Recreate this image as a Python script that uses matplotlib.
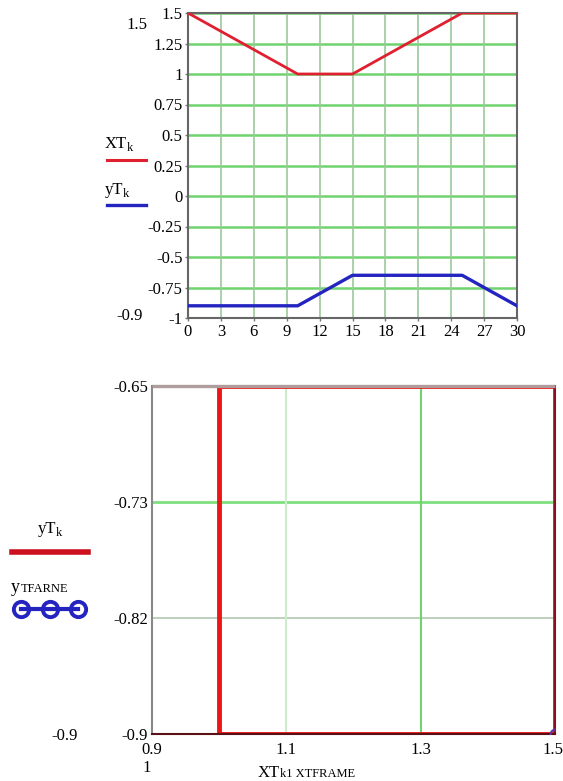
import matplotlib
matplotlib.use("Agg")
import matplotlib.pyplot as plt
from matplotlib.lines import Line2D
import matplotlib.transforms as mtrans
import numpy as np

plt.rcParams['font.family'] = ['Liberation Serif', 'DejaVu Serif']

# ---- data ----
k = [0, 10, 15, 25, 30]
XT = [1.5, 1.0, 1.0, 1.5, 1.5]
yT = [-0.9, -0.9, -0.65, -0.65, -0.9]
XTFRAME = [1.5]
yTFRAME = [-0.9]

top_xticks = [0, 3, 6, 9, 12, 15, 18, 21, 24, 27, 30]
top_yticks = [-1, -0.75, -0.5, -0.25, 0, 0.25, 0.5, 0.75, 1, 1.25, 1.5]
top_ylabels = ["-1", "-0.75", "-0.5", "-0.25", "0", "0.25", "0.5", "0.75", "1", "1.25", "1.5"]
bot_xticks = [0.9, 1.1, 1.3, 1.5]
bot_xlabels = ["0.9", "1.1", "1.3", "1.5"]
bot_yticks = [-0.9, -0.8167, -0.7333, -0.65]
bot_ylabels = ["-0.9", "-0.82", "-0.73", "-0.65"]

W, H = 563, 781
fig = plt.figure(figsize=(W / 100, H / 100), dpi=100)
fs = 12
sfs = 9

def fx(px):
    return px / W

def fy(py):
    return 1 - py / H

def sub_text(x, y, main, sub, size=fs, subsize=sfs, drop=3, ha_center=False, gap=-0.5):
    """Main text followed by a smaller, lowered subscript (pixel coords, baseline)."""
    t = fig.text(fx(x), fy(y), main, fontsize=size, ha='left', va='baseline')
    fig.canvas.draw()
    w_main = t.get_window_extent().width
    s = fig.text(fx(x + w_main + gap), fy(y + drop), sub, fontsize=subsize,
                 ha='left', va='baseline')
    if ha_center:
        w_sub = s.get_window_extent().width
        shift = (w_main + gap + w_sub) / 2
        t.set_x(fx(x - shift))
        s.set_x(fx(x - shift + w_main + gap))
    return t, s

# ---- top chart ----
ax1 = fig.add_axes([fx(188), fy(318), (517 - 188) / W, (318 - 13) / H])
ax1.set_xlim(0, 30)
ax1.set_ylim(-1, 1.5)
for t in top_yticks:
    ax1.axhline(t, color='#6fd36f', lw=1.8, zorder=1)
for t in top_xticks:
    ax1.axvline(t, color='#9bc99b', lw=1.2, zorder=1)
ax1.plot(k, XT, color='#e02030', lw=2.0, zorder=3)
ax1.plot(k, yT, color='#2424c0', lw=2.4, zorder=3)
ax1.set_xticks(top_xticks)
ax1.set_xticklabels([str(t) for t in top_xticks], fontsize=fs)
ax1.set_yticks(top_yticks)
ax1.set_yticklabels(top_ylabels, fontsize=fs)
ax1.tick_params(direction='out', length=2, width=1, color='#777777', pad=2)
for s in ax1.spines.values():
    s.set_color('#666666')
    s.set_linewidth(1.5)

# top legend & limit labels
fig.text(fx(137), fy(25), "1.5", fontsize=fs, ha='center', va='center')
fig.text(fx(130), fy(316), "-0.9", fontsize=fs, ha='center', va='center')
sub_text(105, 148, "XT", "k")
fig.add_artist(Line2D([fx(107), fx(146)], [fy(160), fy(160)], color='#e02030', lw=2.2))
sub_text(105, 194, "yT", "k")
fig.add_artist(Line2D([fx(107), fx(146)], [fy(205), fy(205)], color='#2424c0', lw=2.4))

# ---- bottom chart ----
ax2 = fig.add_axes([fx(152), fy(734), (555 - 152) / W, (734 - 386) / H])
ax2.set_xlim(0.9, 1.5)
ax2.set_ylim(-0.9, -0.65)
ax2.axhline(bot_yticks[2], color='#7ee07e', lw=2.0, zorder=1)
ax2.axhline(bot_yticks[1], color='#b0c8b0', lw=1.2, zorder=1)
ax2.axvline(1.1, color='#cdeccd', lw=1.5, zorder=1)
ax2.axvline(1.3, color='#6fd36f', lw=1.5, zorder=1)
ax2.plot(XT, yT, color='#ee1515', lw=3.5, zorder=2)
ax2.plot(XTFRAME, yTFRAME, marker='o', ms=7, mfc='none', mec='#6030a0', mew=1.5,
         color='#2424c0', zorder=4)
ax2.set_xticks(bot_xticks)
ax2.set_xticklabels(bot_xlabels, fontsize=fs)
ax2.set_yticks(bot_yticks)
ax2.set_yticklabels(bot_ylabels, fontsize=fs)
ax2.tick_params(axis='y', length=0, pad=3)
ax2.tick_params(axis='x', length=0, pad=6)
last = ax2.get_xticklabels()[-1]
last.set_ha('right')
last.set_transform(last.get_transform() + mtrans.ScaledTranslation(8 / 100, 0, fig.dpi_scale_trans))
for s in ax2.spines.values():
    s.set_color('#999999')
    s.set_linewidth(1.5)
    s.set_zorder(3)
ax2.spines['left'].set_color('#888888')
ax2.spines['bottom'].set_color('#5a1015')
ax2.spines['right'].set_color('#8a1020')
ax2.spines['top'].set_color('#b09c9c')
ax2.spines['top'].set_linewidth(2.4)
ax2.spines['top'].set_capstyle('butt')

# bottom legend & labels
sub_text(50, 533, "yT", "k", ha_center=True)
fig.add_artist(Line2D([fx(12), fx(88)], [fy(552), fy(552)], color='#cc1020', lw=4))
fig.text(fx(11), fy(592), "y", fontsize=fs + 1, ha='left', va='baseline')
fig.text(fx(21), fy(592), "TFARNE", fontsize=sfs, ha='left', va='baseline')
fig.add_artist(Line2D([fx(21), fx(50), fx(78)], [fy(609), fy(609), fy(609)],
                      color='#2424c0', lw=3,
                      marker='o', ms=11, mfc='none', mec='#2424c0', mew=2.8))
fig.text(fx(65), fy(736), "-0.9", fontsize=fs, ha='center', va='center')
fig.text(fx(147), fy(768), "1", fontsize=fs, ha='center', va='center')
sub_text(258, 777, "XT", "k1 XTFRAME", drop=0)

fig.savefig("out.png", dpi=100)
